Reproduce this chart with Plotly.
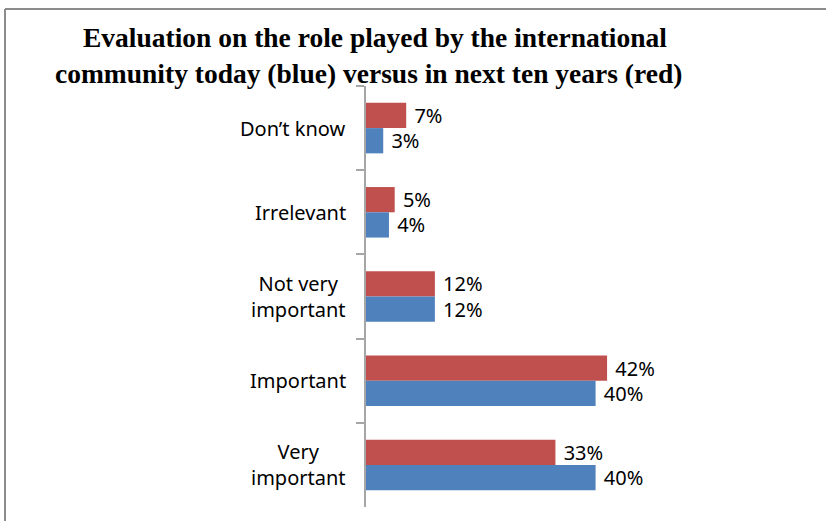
import plotly.graph_objects as go

# Survey answers, listed top to bottom
categories = ["Don’t know", "Irrelevant", "Not very<br>important", "Important", "Very<br>important"]
next_ten_years = [7, 5, 12, 42, 33]   # red
today = [3, 4, 12, 40, 40]            # blue

title_lines = [
    "Evaluation on the role played by the international",
    "community today (blue) versus in next ten years (red)",
]

W, H = 826, 521
ML, MR, MT, MB = 366, 56, 86, 14
PW, PH = W - ML - MR, H - MT - MB

RED = "#C0504D"
BLUE = "#4F81BD"
LABEL_FONT = dict(family="Noto Sans, Open Sans, sans-serif", size=20, color="#000000")

fig = go.Figure()
fig.add_trace(go.Bar(
    y=categories, x=next_ten_years, orientation="h", name="Next ten years",
    marker=dict(color=RED, line=dict(width=0)),
    text=[f"\u00a0{v}%" for v in next_ten_years], textposition="outside",
    textfont=LABEL_FONT, cliponaxis=False, constraintext="none",
))
fig.add_trace(go.Bar(
    y=categories, x=today, orientation="h", name="Today",
    marker=dict(color=BLUE, line=dict(width=0)),
    text=[f"\u00a0{v}%" for v in today], textposition="outside",
    textfont=LABEL_FONT, cliponaxis=False, constraintext="none",
))

def px_x(p):
    return (p - ML) / PW

def px_y(p):
    return (H - MB - p) / PH

# Category labels, centred line by line, to the left of the axis
annotations = [
    dict(x=px_x(348), y=c, xref="paper", yref="y", text=c, showarrow=False,
         xanchor="right", yanchor="middle", align="center", font=LABEL_FONT)
    for c in categories
]
# Two-line title
for line, xc, yc in zip(title_lines, (375, 368), (37, 74)):
    annotations.append(dict(
        x=px_x(xc), y=px_y(yc), xref="paper", yref="paper", text=f"<b>{line}</b>",
        showarrow=False, xanchor="center", yanchor="middle",
        font=dict(family="Liberation Serif, Times New Roman, serif", size=27.5, color="#000000"),
    ))

# Outer frame (top and left edges)
frame = dict(type="line", xref="paper", yref="paper", line=dict(color="#8C8C8C", width=2))
shapes = [
    dict(frame, x0=px_x(5), y0=px_y(9), x1=px_x(W), y1=px_y(9)),
    dict(frame, x0=px_x(5), y0=px_y(9), x1=px_x(5), y1=px_y(H)),
]

fig.update_layout(
    width=W, height=H,
    margin=dict(l=ML, r=MR, t=MT, b=MB),
    paper_bgcolor="white", plot_bgcolor="white",
    barmode="group", bargap=0.40, bargroupgap=0,
    showlegend=False,
    annotations=annotations, shapes=shapes,
    xaxis=dict(range=[0, PW / 5.74], visible=False, showgrid=False, zeroline=False),
    yaxis=dict(
        autorange="reversed", showticklabels=False, showgrid=False, zeroline=False,
        showline=True, linecolor="#A6A6A6", linewidth=1.5,
        ticks="outside", tickson="boundaries", ticklen=8, tickcolor="#A6A6A6", tickwidth=1.5,
    ),
)

fig.write_html("out.html")
